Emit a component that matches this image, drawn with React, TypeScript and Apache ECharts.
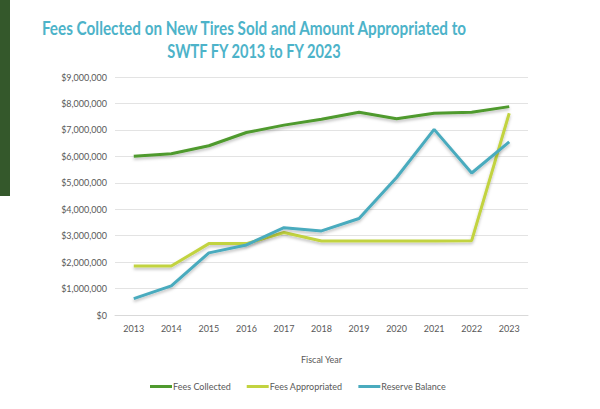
import React, { useEffect, useRef } from "react";
import * as echarts from "echarts";

const years = ["2013", "2014", "2015", "2016", "2017", "2018", "2019", "2020", "2021", "2022", "2023"];
const feesCollected = [6000000, 6100000, 6400000, 6900000, 7180000, 7400000, 7670000, 7420000, 7630000, 7670000, 7880000];
const feesAppropriated = [1850000, 1850000, 2700000, 2700000, 3120000, 2800000, 2800000, 2800000, 2800000, 2810000, 7630000];
const reserveBalance = [620000, 1100000, 2350000, 2650000, 3300000, 3180000, 3650000, 5200000, 7020000, 5370000, 6550000];
const titleLines = ["Fees Collected on New Tires Sold and Amount Appropriated to", "SWTF FY 2013 to FY 2023"];

const FONT = "Lato, 'Open Sans', sans-serif";

export default function App() {
  const ref = useRef<HTMLDivElement>(null);
  useEffect(() => {
    if (!ref.current) return;
    const chart = echarts.init(ref.current, null, { renderer: "svg" });
    const shadow = { shadowColor: "rgba(0,0,0,0.25)", shadowBlur: 3, shadowOffsetY: 2 };
    const mk = (name: string, data: number[], color: string) => ({
      name,
      type: "line",
      data,
      symbol: "none",
      lineStyle: { color, width: 3, ...shadow },
      itemStyle: { color },
    });
    const titleStyle = (text: string) => ({
      text,
      fill: "#4db3c9",
      font: "bold 19px Lato, 'Open Sans', sans-serif",
      align: "center",
      verticalAlign: "middle",
    });
    chart.setOption({
      animation: false,
      backgroundColor: "#ffffff",
      graphic: [
        { type: "rect", shape: { x: 0, y: 0, width: 10, height: 196 }, style: { fill: "#34582b" } },
        { type: "text", x: 254, y: 28, scaleX: 0.805, style: titleStyle(titleLines[0]) },
        { type: "text", x: 254, y: 51, scaleX: 0.77, style: titleStyle(titleLines[1]) },
      ],
      grid: { left: 115, right: 72, top: 77, bottom: 94 },
      xAxis: {
        type: "category",
        data: years,
        boundaryGap: true,
        name: "Fiscal Year",
        nameLocation: "middle",
        nameGap: 40,
        nameTextStyle: { color: "#595959", fontSize: 9, fontFamily: FONT },
        axisLine: { lineStyle: { color: "#d9d9d9" } },
        axisTick: { show: false },
        axisLabel: { color: "#595959", fontSize: 9, fontFamily: FONT, margin: 9 },
      },
      yAxis: {
        type: "value",
        min: 0,
        max: 9000000,
        interval: 1000000,
        axisLine: { show: false },
        axisTick: { show: false },
        splitLine: { lineStyle: { color: "#e3e3e3" } },
        axisLabel: {
          color: "#595959",
          fontSize: 9,
          fontFamily: FONT,
          margin: 8,
          formatter: (v: number) => "$" + v.toLocaleString("en-US"),
        },
      },
      legend: {
        bottom: 13,
        left: 145,
        icon: "rect",
        itemWidth: 22,
        itemHeight: 3,
        itemGap: 16,
        textStyle: { color: "#595959", fontSize: 9, fontFamily: FONT, padding: [0, 0, 0, -4] },
        data: ["Fees Collected", "Fees Appropriated", "Reserve Balance"],
      },
      series: [
        mk("Fees Collected", feesCollected, "#4f9a2e"),
        mk("Fees Appropriated", feesAppropriated, "#c2d340"),
        mk("Reserve Balance", reserveBalance, "#4aabbe"),
      ],
    });
    return () => chart.dispose();
  }, []);
  return <div ref={ref} style={{ width: 600, height: 409, position: "absolute", left: 0, top: 0 }} />;
}
